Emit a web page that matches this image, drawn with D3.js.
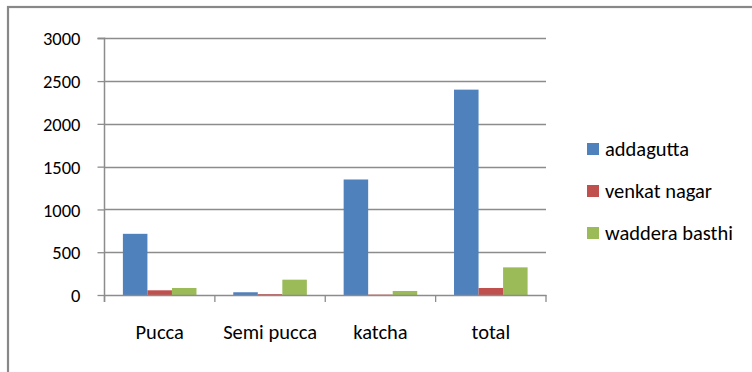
<!DOCTYPE html>
<html>
<head>
<meta charset="utf-8">
<script src="https://cdn.jsdelivr.net/npm/d3@7/dist/d3.min.js"></script>
<style>
  html, body { margin: 0; padding: 0; background: #fff; }
  svg { display: block; }
  text { font-family: Carlito, Calibri, Lato, "Open Sans", sans-serif; fill: #000; }
</style>
</head>
<body>
<svg id="chart" width="752" height="372"></svg>
<script>
// Housing types per locality
const categories = ["Pucca", "Semi pucca", "katcha", "total"];
const seriesNames = ["addagutta", "venkat nagar", "waddera basthi"];
const addagutta = [715, 32, 1350, 2400];
const venkatNagar = [55, 10, 5, 82];
const wadderaBasthi = [82, 179, 47, 323];
const yTicks = [0, 500, 1000, 1500, 2000, 2500, 3000];
const colors = ["#4F81BD", "#C0504D", "#9BBB59"];

const seriesValues = [addagutta, venkatNagar, wadderaBasthi];

const svg = d3.select("#chart");

// Outer chart frame (continues past the right and bottom edges)
svg.append("rect")
  .attr("x", 8).attr("y", 7)
  .attr("width", 800).attr("height", 420)
  .attr("fill", "none")
  .attr("stroke", "#888")
  .attr("stroke-width", 2.2);

const plot = { left: 104.5, right: 546, top: 38.3, bottom: 295 };

const x = d3.scaleBand()
  .domain(categories)
  .range([plot.left, plot.right])
  .paddingInner(0)
  .paddingOuter(0);

// three bars per category with a 150% gap between groups
const xInner = d3.scaleBand()
  .domain(seriesNames)
  .range([0, x.bandwidth()])
  .paddingInner(0)
  .paddingOuter(0.75);

const y = d3.scaleLinear()
  .domain([0, 3000])
  .range([plot.bottom, plot.top]);

// Horizontal gridlines
svg.append("g")
  .selectAll("line")
  .data(yTicks.filter(d => d > 0))
  .join("line")
  .attr("x1", plot.left).attr("x2", plot.right)
  .attr("y1", d => Math.round(y(d)) + 0.5)
  .attr("y2", d => Math.round(y(d)) + 0.5)
  .attr("stroke", "#8c8c8c")
  .attr("stroke-width", 1.3);

// Bars
const groups = svg.append("g")
  .selectAll("g")
  .data(seriesNames)
  .join("g")
  .attr("fill", (d, i) => colors[i]);

groups.selectAll("rect")
  .data((name, si) => categories.map((c, ci) => ({ c, name, v: seriesValues[si][ci] })))
  .join("rect")
  .attr("x", d => x(d.c) + xInner(d.name))
  .attr("width", xInner.bandwidth())
  .attr("y", d => y(d.v))
  .attr("height", d => y(0) - y(d.v));

// Y axis
const yAxis = d3.axisLeft(y)
  .tickValues(yTicks)
  .tickSize(7)
  .tickPadding(17)
  .tickFormat(d3.format("d"));

const gy = svg.append("g")
  .attr("transform", `translate(${plot.left},0)`)
  .call(yAxis);
gy.select(".domain").attr("stroke", "#8c8c8c").attr("stroke-width", 1.5)
  .attr("d", `M-7,${plot.top}H0V${plot.bottom + 7}`);
gy.selectAll(".tick line").attr("stroke", "#8c8c8c").attr("stroke-width", 1.3);
gy.selectAll(".tick text")
  .style("font-size", "18.5px")
  .attr("dy", "0.36em")
  .attr("fill", "#000");

// X axis
const xAxis = d3.axisBottom(x)
  .tickSize(0)
  .tickPadding(29);

const gx = svg.append("g")
  .attr("transform", `translate(0,${plot.bottom})`)
  .call(xAxis);
gx.select(".domain").attr("stroke", "#8c8c8c").attr("stroke-width", 1.5);
gx.selectAll(".tick text")
  .style("font-size", "20.5px")
  .attr("fill", "#000");

// Category separator ticks
svg.append("g")
  .selectAll("line")
  .data(categories.map(c => x(c)).concat([plot.right]))
  .join("line")
  .attr("x1", d => d).attr("x2", d => d)
  .attr("y1", plot.bottom).attr("y2", plot.bottom + 7)
  .attr("stroke", "#8c8c8c")
  .attr("stroke-width", 1.3);

// Legend
const legend = svg.append("g")
  .selectAll("g")
  .data(seriesNames)
  .join("g")
  .attr("transform", (d, i) => `translate(587,${149 + i * 42})`);

legend.append("rect")
  .attr("x", 0).attr("y", -6)
  .attr("width", 12).attr("height", 12)
  .attr("fill", (d, i) => colors[i]);

legend.append("text")
  .attr("x", 18)
  .attr("dy", "0.36em")
  .style("font-size", "20.5px")
  .text(d => d);
</script>
</body>
</html>
